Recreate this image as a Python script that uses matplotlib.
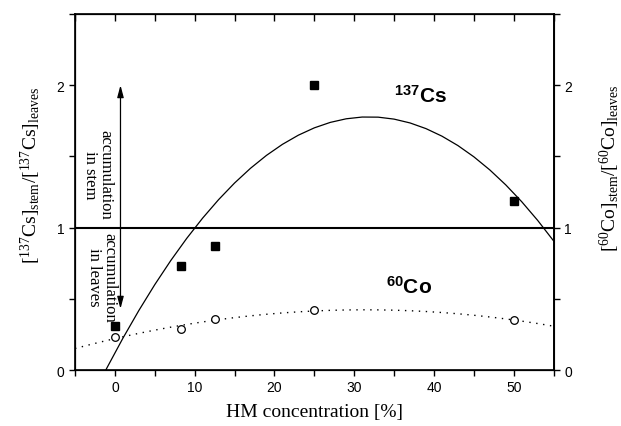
import numpy as np
import matplotlib
matplotlib.use("Agg")
import matplotlib.pyplot as plt
from matplotlib.ticker import MultipleLocator

plt.rcParams.update({
    "font.family": "Liberation Sans",
    "mathtext.fontset": "custom",
    "mathtext.rm": "Liberation Serif",
    "mathtext.it": "Liberation Serif:italic",
    "mathtext.bf": "Liberation Sans:bold",
})

# HM concentration [%]
hm = [0, 8.3, 12.5, 25, 50]
# stem/leaves ratios
cs_ratio = [0.31, 0.73, 0.87, 2.0, 1.19]
co_ratio = [0.23, 0.29, 0.36, 0.42, 0.35]

fig = plt.figure(figsize=(6.21, 4.27), dpi=100)
ax = fig.add_axes([0.1208, 0.1311, 0.7707, 0.8338])

# second-order polynomial fits
xf = np.linspace(-5, 55, 31)
cs_fit = np.polyval(np.polyfit(hm, cs_ratio, 2), xf)
co_fit = np.polyval(np.polyfit(hm, co_ratio, 2), xf)

ax.plot(xf, cs_fit, color="black", lw=0.9)
ax.plot(xf, co_fit, color="black", lw=1.0, ls=(0, (1, 4)))
ax.axhline(1, color="black", lw=1.5)
ax.plot(hm, cs_ratio, "s", color="black", ms=5.5, zorder=5)
ax.plot(hm, co_ratio, "o", mfc="white", mec="black", mew=0.9, ms=5.5, zorder=5)

ax.set_xlim(-5, 55)
ax.set_ylim(0, 2.5)
ax.xaxis.set_major_locator(MultipleLocator(10))
ax.xaxis.set_minor_locator(MultipleLocator(5))
ax.yaxis.set_major_locator(MultipleLocator(1))
ax.yaxis.set_minor_locator(MultipleLocator(0.5))
ax.tick_params(which="both", direction="out", length=4, width=1, labelsize=10)
for s in ax.spines.values():
    s.set_linewidth(1.2)

# top ticks point inward
ax3 = ax.twiny()
ax3.set_xlim(-5, 55)
ax3.xaxis.set_major_locator(MultipleLocator(5))
ax3.tick_params(axis="x", direction="in", length=5, width=1, top=True,
                labeltop=False)

ax2 = ax.twinx()
ax2.set_ylim(0, 2.5)
ax2.yaxis.set_major_locator(MultipleLocator(1))
ax2.yaxis.set_minor_locator(MultipleLocator(0.5))
ax2.tick_params(which="both", direction="out", length=4, width=1, labelsize=10)
ax2.spines["right"].set_linewidth(1.2)

ax.set_xlabel("HM concentration [%]", family="Liberation Serif", fontsize=14,
              labelpad=6)
ax.set_ylabel(r"[$^{137}$Cs]$_{\mathrm{stem}}$/[$^{137}$Cs]$_{\mathrm{leaves}}$",
              family="Liberation Serif", fontsize=14)
ax.yaxis.set_label_coords(-0.067, 0.55)
ax2.set_ylabel(r"[$^{60}$Co]$_{\mathrm{stem}}$/[$^{60}$Co]$_{\mathrm{leaves}}$",
               family="Liberation Serif", fontsize=14)
ax2.yaxis.set_label_coords(1.093, 0.57)

# accumulation arrow
ax.annotate("", xy=(0.7, 2.0), xytext=(0.7, 0.43),
            arrowprops=dict(arrowstyle="<|-|>,head_length=0.6,head_width=0.16",
                            color="black", lw=0.9, mutation_scale=12,
                            shrinkA=0, shrinkB=0))
ax.text(-2.2, 1.69, "accumulation\nin stem", rotation=-90, family="Liberation Serif",
        fontsize=12, ha="center", va="top", linespacing=0.95)
ax.text(-1.7, 0.97, "accumulation\nin leaves", rotation=-90, family="Liberation Serif",
        fontsize=12, ha="center", va="top", linespacing=0.95)

ax.text(38.3, 1.93, r"$\mathbf{^{137}Cs}$", fontsize=15, ha="center", va="center")
ax.text(36.9, 0.59, r"$\mathbf{^{60}Co}$", fontsize=15, ha="center", va="center")

fig.savefig("out.png", dpi=100)
